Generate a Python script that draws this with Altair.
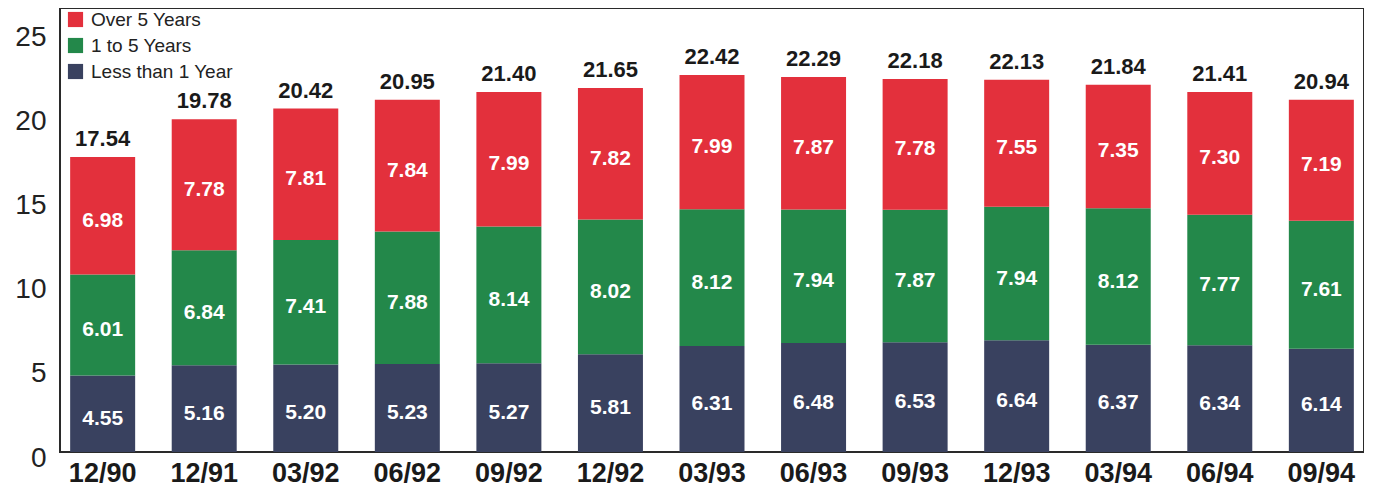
import altair as alt
import pandas as pd

periods = ["12/90", "12/91", "03/92", "06/92", "09/92", "12/92", "03/93",
           "06/93", "09/93", "12/93", "03/94", "06/94", "09/94"]
less_than_1 = [4.55, 5.16, 5.20, 5.23, 5.27, 5.81, 6.31, 6.48, 6.53, 6.64, 6.37, 6.34, 6.14]
one_to_5 = [6.01, 6.84, 7.41, 7.88, 8.14, 8.02, 8.12, 7.94, 7.87, 7.94, 8.12, 7.77, 7.61]
over_5 = [6.98, 7.78, 7.81, 7.84, 7.99, 7.82, 7.99, 7.87, 7.78, 7.55, 7.35, 7.30, 7.19]
totals = [17.54, 19.78, 20.42, 20.95, 21.40, 21.65, 22.42, 22.29, 22.18, 22.13, 21.84, 21.41, 20.94]

series_names = ["Over 5 Years", "1 to 5 Years", "Less than 1 Year"]
series_colors = ["#e3303c", "#23884a", "#39415f"]

rows = []
for i, p in enumerate(periods):
    base = 0.0
    for order, (name, vals) in enumerate([("Less than 1 Year", less_than_1),
                                          ("1 to 5 Years", one_to_5),
                                          ("Over 5 Years", over_5)]):
        v = vals[i]
        rows.append({"period": p, "series": name, "value": v, "order": order,
                     "y0": base, "y1": base + v, "ymid": base + v / 2,
                     "label": f"{v:.2f}"})
        base += v
df = pd.DataFrame(rows)
tot_df = pd.DataFrame({"period": periods, "total": totals,
                       "label": [f"{t:.2f}" for t in totals]})

FONT = "Liberation Sans"

x_enc = alt.X("period:N", sort=periods,
              scale=alt.Scale(paddingInner=0.36, paddingOuter=0.1),
              axis=alt.Axis(title=None, labelAngle=0, labelFontSize=27, labelFontWeight="bold",
                            labelColor="#1a1a1a", ticks=False, domain=False, labelPadding=8,
                            labelFont=FONT))
y_scale = alt.Scale(domain=[0, 26.4], nice=False)

bars = alt.Chart(df).mark_bar().encode(
    x=x_enc,
    y=alt.Y("y0:Q", scale=y_scale,
            axis=alt.Axis(title=None, values=[0, 5, 10, 15, 20, 25], ticks=False, domain=False,
                          grid=False, labelFontSize=28, labelColor="#222222", labelPadding=14,
                          labelFont=FONT, labelOffset=6)),
    y2="y1:Q",
    color=alt.Color("series:N", scale=alt.Scale(domain=series_names, range=series_colors),
                    legend=alt.Legend(title=None, orient="none", legendX=6, legendY=2,
                                      symbolType="square", symbolSize=230, symbolStrokeWidth=0,
                                      labelFontSize=19, labelFont=FONT, labelColor="#222222",
                                      rowPadding=6, labelOffset=6, padding=0)),
)

seg_text = alt.Chart(df).mark_text(color="white", fontSize=21, fontWeight="bold", font=FONT,
                                   baseline="middle", dy=5).encode(
    x=alt.X("period:N", sort=periods),
    y=alt.Y("ymid:Q", scale=y_scale),
    text="label:N",
)

tot_text = alt.Chart(tot_df).mark_text(color="#1a1a1a", fontSize=22, fontWeight="bold", font=FONT,
                                       baseline="bottom", dy=-6).encode(
    x=alt.X("period:N", sort=periods),
    y=alt.Y("total:Q", scale=y_scale),
    text="label:N",
)

chart = alt.layer(bars, seg_text, tot_text).properties(
    width=1304, height=444,
    padding={"left": 52, "top": 0, "right": 0, "bottom": 34},
    autosize=alt.AutoSizeParams(type="none"),
    background="white",
).configure_view(stroke="#2a2a2a", strokeWidth=2)

chart.save("out.html", embed_options={"renderer": "svg", "actions": False})
